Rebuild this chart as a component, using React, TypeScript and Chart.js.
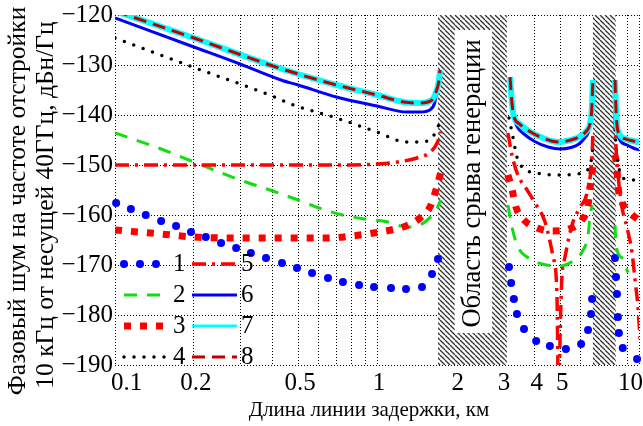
import React, { useEffect, useRef } from "react";
import { Chart, registerables } from "chart.js";

Chart.register(...registerables);

type Pt = [number, number | null];

const FONT = '"Liberation Serif", "Times New Roman", serif';

const xGridValues = [0.1, 0.2, 0.3, 0.4, 0.5, 0.6, 0.7, 0.8, 0.9, 1, 2, 3, 4, 5, 6, 7, 8, 9, 10];
const xLabelValues = [0.1, 0.2, 0.5, 1, 2, 3, 4, 5, 10];
const xLabelTexts = ["0.1", "0.2", "0.5", "1", "2", "3", "4", "5", "10"];
const yTickValues = [-120, -130, -140, -150, -160, -170, -180, -190];
const yTickTexts = ["−120", "−130", "−140", "−150", "−160", "−170", "−180", "−190"];

const xTitle = "Длина линии задержки, км";
const yTitleLines = ["Фазовый шум на частоте отстройки", "10 кГц от несущей 40ГГц, дБн/Гц"];
const noteText = "Область срыва генерации";
const hatchFrom = [1.71, 6.67];
const hatchTo = [3.13, 8.15];
const noteBoxX = [1.98, 2.75];
const noteBoxY = [-123, -183.6];

const legendNumbers = ["1", "2", "3", "4", "5", "6", "7", "8"];

const series1: Pt[] = [
  [0.101, -157.6], [0.115, -158.8], [0.131, -160], [0.15, -161.2], [0.171, -162.2], [0.195, -163.4],
  [0.222, -164.4], [0.254, -165.6], [0.29, -166.6], [0.33, -167.6], [0.377, -168.6], [0.434, -169.6],
  [0.495, -170.6], [0.565, -171.6], [0.65, -172.6], [0.741, -173.4], [0.854, -174], [0.974, -174.4],
  [1.131, -174.6], [1.29, -174.8], [1.485, -174.4], [1.622, -171.8], [1.709, -168.8],
  [3.19, -170.4], [3.25, -173.6], [3.33, -176.8], [3.42, -179.8], [3.64, -182.8], [4.05, -185.2],
  [4.57, -186.2], [5.26, -186.8], [6.01, -185.8], [6.39, -183], [6.56, -179.8], [6.62, -176.8],
  [8.1, -168.6], [8.17, -172.4], [8.24, -175.8], [8.31, -180.4], [8.38, -183.6], [8.67, -186.6], [9.83, -188.8],
];

const series2: Pt[] = [
  [0.1, -143.6], [0.15, -146.8], [0.2, -149.4], [0.3, -153], [0.39, -155], [0.5, -157], [0.6, -158.6],
  [0.74, -160], [0.9, -160.8], [1.1, -161.4], [1.3, -162.4], [1.46, -162], [1.6, -160.4], [1.7, -158.5], [1.75, -157],
  [2.4, null],
  [3.16, -158], [3.28, -162.6], [3.45, -166.4], [3.74, -168.4], [4.27, -169.8], [4.99, -170.2], [5.6, -169.2],
  [6.06, -167.4], [6.39, -164], [6.5, -160.4], [6.62, -158],
  [7.4, null],
  [8.1, -162], [8.17, -166], [8.61, -168.6], [8.99, -171], [9.1, -171.5],
];

const series3: Pt[] = [
  [0.1, -163], [0.15, -163.8], [0.2, -164.4], [0.3, -164.6], [0.5, -164.6], [0.64, -164.6], [0.8, -164.2],
  [0.97, -163.6], [1.13, -163], [1.29, -162.2], [1.46, -160.6], [1.6, -158.2], [1.7, -154], [1.75, -151.5],
  [2.4, null],
  [3.16, -152], [3.28, -155], [3.39, -158.4], [3.64, -161], [4.08, -162.6], [4.7, -163.2], [5.4, -162.8],
  [6.06, -161], [6.39, -158], [6.5, -154.6], [6.62, -151.6], [6.67, -149.5],
  [7.4, null],
  [8.1, -148], [8.24, -150.6], [8.31, -154], [8.61, -157.4], [9.24, -159.6], [10, -161],
];

const series4: Pt[] = [
  [0.1, -124.6], [0.2, -130.5], [0.39, -136], [0.48, -138], [0.7, -140.6], [1.0, -143.4], [1.3, -145.4],
  [1.46, -145.4], [1.63, -144.4], [1.7, -142.6], [1.75, -141],
  [2.4, null],
  [3.19, -140.6], [3.28, -143.6], [3.42, -148.4], [3.61, -150.6], [4.08, -151.6], [4.99, -152], [6.11, -151.6],
  [6.5, -150], [6.62, -148], [6.67, -146],
  [7.4, null],
  [8.1, -143], [8.2, -147], [8.31, -149.6], [8.69, -152.6], [9.5, -153], [10, -153],
];

const series5: Pt[] = [
  [0.1, -150], [0.5, -150], [0.8, -150], [1.0, -149.8], [1.2, -149.4], [1.42, -148.6], [1.6, -147.4],
  [1.7, -145.5], [1.75, -143.4],
  [2.4, null],
  [3.16, -143.6], [3.28, -148.2], [3.45, -152], [3.74, -155], [4.01, -157.6], [4.38, -161.4], [4.7, -168.4],
  [4.86, -175.6], [4.93, -196], [5.02, -180], [5.08, -172.4], [5.22, -168.4], [5.55, -162], [5.96, -158.4],
  [6.33, -155.6], [6.62, -148], [6.67, -143.6],
  [7.4, null],
  [8.1, -140], [8.17, -146.4], [8.24, -149.6], [8.61, -158.4], [8.99, -162.4], [9.41, -167.6], [9.66, -173],
  [9.91, -178.4], [10.1, -185],
];

const series6: Pt[] = [
  [0.1, -120.6], [0.2, -126.4], [0.3, -129.8], [0.43, -133], [0.5, -134], [0.7, -136.4], [1.0, -138.2],
  [1.3, -139.4], [1.46, -139.4], [1.59, -139], [1.66, -137.6], [1.7, -134.8], [1.74, -131.4],
  [2.4, null],
  [3.22, -132.6], [3.25, -136], [3.3, -139], [3.36, -141.2], [3.45, -142.6], [3.6, -143.6], [4.0, -145.3],
  [4.5, -146.4], [5.0, -146.8], [5.5, -146.5], [5.9, -145.8], [6.2, -144.6], [6.4, -143.5], [6.55, -141],
  [6.62, -138.5], [6.67, -134.2],
  [7.4, null],
  [8.1, -134.6], [8.17, -140.5], [8.24, -143], [8.45, -145], [9.0, -146], [9.5, -146.6], [10, -147],
];

const series7: Pt[] = [
  [0.1, -119.2], [0.2, -124.6], [0.39, -130], [0.5, -131.8], [0.7, -134], [1.0, -136], [1.26, -137.4],
  [1.46, -137.6], [1.62, -137], [1.68, -135.4], [1.72, -133.4], [1.74, -131],
  [2.4, null],
  [3.22, -132.4], [3.26, -136.5], [3.32, -140], [3.5, -141.8], [3.8, -143.2], [4.3, -144.6], [4.9, -145.4],
  [5.5, -145], [5.9, -144.4], [6.3, -143.2], [6.5, -141.8], [6.6, -139], [6.67, -133],
  [7.4, null],
  [8.1, -133], [8.17, -139], [8.24, -142], [8.45, -144], [8.9, -144.8], [9.5, -145.2], [10, -145.5],
];

const series8: Pt[] = [
  [0.1, -119.2], [0.2, -124.6], [0.39, -130], [0.5, -131.8], [0.7, -134], [1.0, -136], [1.26, -137.4],
  [1.46, -137.6], [1.62, -137], [1.68, -135.4], [1.72, -133.4], [1.74, -131],
  [2.4, null],
  [3.22, -132.4], [3.26, -136.5], [3.32, -140], [3.5, -141.8], [3.8, -143.2], [4.3, -144.6], [4.9, -145.4],
  [5.5, -145], [5.9, -144.4], [6.3, -143.2], [6.5, -141.8], [6.6, -139], [6.67, -133],
  [7.4, null],
  [8.1, -133], [8.17, -139], [8.24, -142], [8.45, -144], [8.9, -144.8], [9.5, -145.2], [10, -145.5],
];

const toXY = (s: Pt[]) => s.map(([x, y]) => ({ x, y }));

function makeHatch(ctx: CanvasRenderingContext2D) {
  const c = document.createElement("canvas");
  const n = 5;
  c.width = n;
  c.height = n;
  const g = c.getContext("2d")!;
  g.fillStyle = "#ffffff";
  g.fillRect(0, 0, n, n);
  g.strokeStyle = "#333333";
  g.lineWidth = 1.3;
  for (const k of [-n, 0, n]) {
    g.beginPath();
    g.moveTo(k, 0);
    g.lineTo(k + n, n);
    g.stroke();
  }
  return ctx.createPattern(c, "repeat")!;
}

const decorPlugin = {
  id: "decor",
  beforeDatasetsDraw(chart: any) {
    const { ctx, chartArea: a, scales } = chart;
    const xs = scales.x;
    const ys = scales.y;
    ctx.save();
    ctx.beginPath();
    ctx.rect(a.left, a.top, a.right - a.left, a.bottom - a.top);
    ctx.clip();
    const pat = makeHatch(ctx);
    for (let i = 0; i < hatchFrom.length; i++) {
      const x0 = xs.getPixelForValue(hatchFrom[i]);
      const x1 = xs.getPixelForValue(hatchTo[i]);
      ctx.fillStyle = pat;
      ctx.fillRect(x0, a.top, x1 - x0, a.bottom - a.top);
    }
    const bx0 = xs.getPixelForValue(noteBoxX[0]);
    const bx1 = xs.getPixelForValue(noteBoxX[1]);
    const by0 = ys.getPixelForValue(noteBoxY[0]);
    const by1 = ys.getPixelForValue(noteBoxY[1]);
    ctx.fillStyle = "#ffffff";
    ctx.fillRect(bx0, by0, bx1 - bx0, by1 - by0);
    ctx.translate((bx0 + bx1) / 2, (by0 + by1) / 2 + 2);
    ctx.rotate(-Math.PI / 2);
    ctx.font = `26.5px ${FONT}`;
    ctx.fillStyle = "#000";
    ctx.textAlign = "center";
    ctx.textBaseline = "middle";
    ctx.fillText(noteText, 0, 0);
    ctx.restore();
  },
  afterDraw(chart: any) {
    const { ctx, chartArea: a, scales } = chart;
    const xs = scales.x;
    const ys = scales.y;
    ctx.save();
    ctx.fillStyle = "#000";
    ctx.font = `25px ${FONT}`;
    ctx.textBaseline = "middle";
    // x tick labels
    xLabelValues.forEach((v, i) => {
      const px = xs.getPixelForValue(v);
      if (i === 0) {
        ctx.textAlign = "left";
        ctx.fillText(xLabelTexts[i], px - 4, a.bottom + 18);
      } else if (i === xLabelValues.length - 1) {
        ctx.textAlign = "right";
        ctx.fillText(xLabelTexts[i], chart.width, a.bottom + 18);
      } else {
        ctx.textAlign = "center";
        ctx.fillText(xLabelTexts[i], px + 2, a.bottom + 18);
      }
    });
    // y tick labels
    ctx.textAlign = "right";
    yTickValues.forEach((v, i) => {
      const py = ys.getPixelForValue(v);
      ctx.fillText(yTickTexts[i], a.left - 2, py);
    });
    // x title
    ctx.font = `21px ${FONT}`;
    ctx.textAlign = "center";
    ctx.fillText(xTitle, 369, a.bottom + 45);
    // y title
    ctx.font = `25.5px ${FONT}`;
    ctx.save();
    ctx.translate(18, 201);
    ctx.rotate(-Math.PI / 2);
    ctx.fillText(yTitleLines[0], 0, 0);
    ctx.restore();
    ctx.save();
    ctx.translate(46, 205);
    ctx.rotate(-Math.PI / 2);
    ctx.fillText(yTitleLines[1], 0, 0);
    ctx.restore();

    // legend
    ctx.font = `25px ${FONT}`;
    const dsets = chart.data.datasets;
    const rowY = [a.bottom - 101, a.bottom - 70, a.bottom - 39, a.bottom - 8];
    for (let i = 0; i < 8; i++) {
      const col = i < 4 ? 0 : 1;
      const row = i % 4;
      const y = rowY[row];
      const sx0 = a.left + (col === 0 ? 9 : 77);
      const sx1 = sx0 + 45;
      const ds = dsets[i];
      ctx.save();
      if (i === 0) {
        ctx.fillStyle = ds.pointBackgroundColor;
        for (const dx of [0, 16, 32]) {
          ctx.beginPath();
          ctx.arc(sx0 + dx, y, ds.pointRadius, 0, Math.PI * 2);
          ctx.fill();
        }
      } else {
        ctx.strokeStyle = ds.borderColor;
        ctx.lineWidth = i === 6 ? 3 : ds.borderWidth;
        ctx.lineCap = ds.borderCapStyle || "butt";
        ctx.setLineDash(ds.borderDash || []);
        ctx.beginPath();
        ctx.moveTo(sx0, y);
        ctx.lineTo(sx1, y);
        ctx.stroke();
      }
      ctx.restore();
      ctx.textAlign = "left";
      ctx.fillStyle = "#000";
      ctx.fillText(legendNumbers[i], sx1 + 4, y);
    }
    ctx.restore();
  },
};

export default function App() {
  const ref = useRef<HTMLCanvasElement | null>(null);
  useEffect(() => {
    document.body.style.margin = "0";
    const canvas = ref.current!;
    const lineBase = {
      showLine: true,
      pointRadius: 0,
      spanGaps: false,
      clip: 0,
      cubicInterpolationMode: "monotone",
    };
    const chart = new Chart(canvas, {
      type: "line",
      data: {
        datasets: [
          {
            label: "1",
            data: toXY(series1),
            showLine: false,
            pointRadius: 4,
            pointBackgroundColor: "#0000ff",
            pointBorderWidth: 0,
            borderColor: "#0000ff",
            clip: 4,
            order: 7,
          },
          {
            ...lineBase,
            label: "2",
            data: toXY(series2),
            borderColor: "#11dd11",
            borderWidth: 3,
            borderDash: [13, 10],
            order: 6,
          },
          {
            ...lineBase,
            label: "3",
            data: toXY(series3),
            borderColor: "#ff0000",
            borderWidth: 7,
            borderDash: [7, 9],
            order: 5,
          },
          {
            ...lineBase,
            label: "4",
            data: toXY(series4),
            borderColor: "#000000",
            borderWidth: 3.5,
            borderDash: [0, 10],
            borderCapStyle: "round",
            order: 4,
          },
          {
            ...lineBase,
            label: "5",
            data: toXY(series5),
            borderColor: "#ff0000",
            borderWidth: 3.5,
            borderDash: [14, 6, 3, 6],
            order: 3,
          },
          {
            ...lineBase,
            label: "6",
            data: toXY(series6),
            borderColor: "#0000ff",
            borderWidth: 3,
            order: 2,
          },
          {
            ...lineBase,
            label: "7",
            data: toXY(series7),
            borderColor: "#00ffff",
            borderWidth: 6,
            order: 1,
          },
          {
            ...lineBase,
            label: "8",
            data: toXY(series8),
            borderColor: "#c00000",
            borderWidth: 3,
            borderDash: [13, 7],
            order: 0,
          },
        ] as any,
      },
      options: {
        responsive: false,
        animation: false,
        devicePixelRatio: 1,
        layout: { padding: { left: 115, right: 3, top: 15, bottom: 61 } },
        plugins: { legend: { display: false }, tooltip: { enabled: false } },
        scales: {
          x: {
            type: "logarithmic",
            min: 0.1,
            max: 10,
            afterBuildTicks: (s: any) => {
              s.ticks = xGridValues.map((v) => ({ value: v }));
            },
            afterFit: (s: any) => {
              s.height = 0;
            },
            ticks: { display: false },
            grid: { color: "#000", lineWidth: 1, drawTicks: false },
            border: { display: false, dash: [1, 2] },
          },
          y: {
            type: "linear",
            min: -190,
            max: -120,
            afterBuildTicks: (s: any) => {
              s.ticks = yTickValues.map((v) => ({ value: v }));
            },
            afterFit: (s: any) => {
              s.width = 0;
            },
            ticks: { display: false },
            grid: { color: "#000", lineWidth: 1, drawTicks: false },
            border: { display: false, dash: [1, 2] },
          },
        },
      } as any,
      plugins: [decorPlugin],
    });
    return () => chart.destroy();
  }, []);
  return <canvas ref={ref} width={643} height={426} style={{ display: "block" }} />;
}
